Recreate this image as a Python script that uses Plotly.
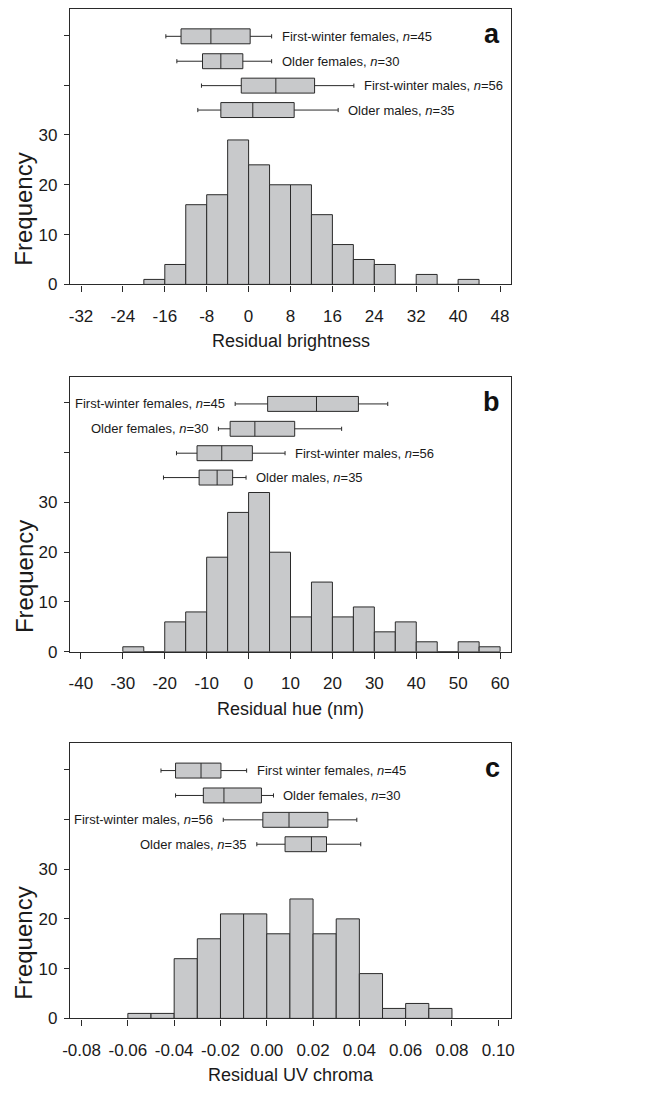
import plotly.graph_objects as go

# ---------------- data ----------------
group_names_a = ["First-winter females", "Older females", "First-winter males", "Older males"]
group_names_b = ["First-winter females", "Older females", "First-winter males", "Older males"]
group_names_c = ["First winter females", "Older females", "First-winter males", "Older males"]
group_n = [45, 30, 56, 35]

# Panel a: residual brightness histogram (bin left edges, width 4)
bright_bins = [-20, -16, -12, -8, -4, 0, 4, 8, 12, 16, 20, 24, 28, 32, 36, 40]
bright_counts = [1, 4, 16, 18, 29, 24, 20, 20, 14, 8, 5, 4, 0, 2, 0, 1]
bright_lo = [-15.8, -13.7, -9.0, -9.7]
bright_q1 = [-12.9, -8.8, -1.4, -5.3]
bright_med = [-7.2, -5.3, 5.2, 0.8]
bright_q3 = [0.3, -1.1, 12.6, 8.7]
bright_hi = [4.4, 4.4, 20.1, 17.1]

# Panel b: residual hue histogram (bin left edges, width 5)
hue_bins = [-30, -25, -20, -15, -10, -5, 0, 5, 10, 15, 20, 25, 30, 35, 40, 45, 50, 55]
hue_counts = [1, 0, 6, 8, 19, 28, 32, 20, 7, 14, 7, 9, 4, 6, 2, 0, 2, 1]
hue_lo = [-3.2, -7.2, -17.2, -20.3]
hue_q1 = [4.55, -4.4, -12.3, -11.8]
hue_med = [16.2, 1.5, -6.4, -7.5]
hue_q3 = [26.2, 11.0, 0.9, -3.8]
hue_hi = [33.2, 22.2, 8.7, -0.6]

# Panel c: residual UV chroma histogram (bin left edges, width 0.01)
uv_bins = [-0.06, -0.05, -0.04, -0.03, -0.02, -0.01, 0.00, 0.01, 0.02, 0.03, 0.04, 0.05, 0.06, 0.07]
uv_counts = [1, 1, 12, 16, 21, 21, 17, 24, 17, 20, 9, 2, 3, 2]
uv_lo = [-0.0457, -0.0394, -0.0188, -0.0043]
uv_q1 = [-0.0394, -0.0274, -0.0017, 0.0079]
uv_med = [-0.0284, -0.0185, 0.0096, 0.0193]
uv_q3 = [-0.0198, -0.0023, 0.0264, 0.0258]
uv_hi = [-0.0087, 0.0029, 0.0389, 0.0406]

bright_ticks = [-32, -24, -16, -8, 0, 8, 16, 24, 32, 40, 48]
hue_ticks = [-40, -30, -20, -10, 0, 10, 20, 30, 40, 50, 60]
uv_ticks = [-0.08, -0.06, -0.04, -0.02, 0.00, 0.02, 0.04, 0.06, 0.08, 0.10]
freq_ticks = [0, 10, 20, 30, 40, 50]
freq_ticktext = ["0", "10", "20", "30", "", ""]

# ---------------- styling / layout ----------------
FONT = "Liberation Sans, Arial, sans-serif"
GRAY = "#c8c9cb"
DARK = "#2a2a2a"
TXT = "#1a1a1a"
ROW_Y = [49.8, 44.8, 39.9, 35.0]
W, H = 659, 1104
ML, MR = 70, 148
PW = W - ML - MR

panels = [
    dict(bins=bright_bins, width=4, counts=bright_counts, lo=bright_lo, q1=bright_q1,
         med=bright_med, q3=bright_q3, hi=bright_hi, names=group_names_a,
         sides=["right", "right", "right", "right"], ticks=bright_ticks,
         ticktext=[f"{v:g}" for v in bright_ticks],
         xr=[-34.1, 50.1], title="Residual brightness", letter="a", top=9, bottom=287),
    dict(bins=hue_bins, width=5, counts=hue_counts, lo=hue_lo, q1=hue_q1,
         med=hue_med, q3=hue_q3, hi=hue_hi, names=group_names_b,
         sides=["left", "left", "right", "right"], ticks=hue_ticks,
         ticktext=[f"{v:g}" for v in hue_ticks],
         xr=[-42.6, 62.6], title="Residual hue (nm)", letter="b", top=380, bottom=657.7),
    dict(bins=uv_bins, width=0.01, counts=uv_counts, lo=uv_lo, q1=uv_q1,
         med=uv_med, q3=uv_q3, hi=uv_hi, names=group_names_c,
         sides=["right", "right", "left", "left"], ticks=uv_ticks,
         ticktext=[f"{v:.2f}" for v in uv_ticks],
         xr=[-0.085, 0.1055], title="Residual UV chroma", letter="c", top=750, bottom=1027.7),
]

fig = go.Figure()
annotations = []
layout = {}

for i, p in enumerate(panels):
    k = "" if i == 0 else str(i + 1)
    xa, ya = "x" + k, "y" + k
    centers = [b + p["width"] / 2 for b in p["bins"]]
    fig.add_trace(go.Bar(
        x=centers, y=p["counts"], width=[p["width"]] * len(centers),
        marker=dict(color=GRAY, line=dict(color=DARK, width=1)),
        xaxis=xa, yaxis=ya, showlegend=False, hoverinfo="skip"))
    fig.add_trace(go.Box(
        y=ROW_Y, q1=p["q1"], median=p["med"], q3=p["q3"],
        lowerfence=p["lo"], upperfence=p["hi"], orientation="h",
        width=3, whiskerwidth=0.28, fillcolor=GRAY,
        line=dict(color=DARK, width=1), boxpoints=False,
        xaxis=xa, yaxis=ya, showlegend=False, hoverinfo="skip"))

    for j in range(4):
        label = f"{p['names'][j]}, <i>n</i>={group_n[j]}"
        if p["sides"][j] == "right":
            annotations.append(dict(x=p["hi"][j], y=ROW_Y[j], xref=xa, yref=ya, text=label,
                                    xanchor="left", yanchor="middle", xshift=8, showarrow=False,
                                    font=dict(family=FONT, size=13, color=TXT)))
        else:
            annotations.append(dict(x=p["lo"][j], y=ROW_Y[j], xref=xa, yref=ya, text=label,
                                    xanchor="right", yanchor="middle", xshift=-8, showarrow=False,
                                    font=dict(family=FONT, size=13, color=TXT)))
    # panel letter
    annotations.append(dict(x=1, y=1, xref=xa + " domain", yref=ya + " domain", text=f"<b>{p['letter']}</b>",
                            xanchor="right", yanchor="middle", xshift=-9, yshift=-25, showarrow=False,
                            font=dict(family=FONT, size=27, color="#111")))
    # x title
    annotations.append(dict(x=0.5, y=0, xref=xa + " domain", yref=ya + " domain", text=p["title"],
                            xanchor="center", yanchor="middle", yshift=-57, showarrow=False,
                            font=dict(family=FONT, size=18, color=TXT)))
    # y title
    annotations.append(dict(x=(24 - ML) / PW, y=15, xref="paper", yref=ya, text="Frequency", textangle=-90,
                            xanchor="center", yanchor="middle", showarrow=False,
                            font=dict(family=FONT, size=24, color=TXT)))

    dom = [1 - p["bottom"] / H, 1 - p["top"] / H]
    layout["xaxis" + k] = dict(domain=[0, 1], range=p["xr"], anchor=ya, tickvals=p["ticks"],
                               ticktext=p["ticktext"], ticks="outside", ticklen=6, tickwidth=1,
                               tickcolor=DARK, showline=True, linecolor=DARK, linewidth=1.3, mirror=True,
                               showgrid=False, zeroline=False, ticklabelstandoff=10,
                               tickfont=dict(family=FONT, size=17, color=TXT))
    layout["yaxis" + k] = dict(domain=dom, range=[0, 55.3], anchor=xa, tickvals=freq_ticks,
                               ticktext=freq_ticktext, ticks="outside", ticklen=5, tickwidth=1,
                               tickcolor=DARK, showline=True, linecolor=DARK, linewidth=1.3, mirror=True,
                               showgrid=False, zeroline=False, ticklabelstandoff=3,
                               tickfont=dict(family=FONT, size=17, color=TXT))

fig.update_layout(
    width=W, height=H, margin=dict(l=ML, r=MR, t=0, b=0),
    paper_bgcolor="white", plot_bgcolor="white", showlegend=False,
    annotations=annotations, barmode="overlay", boxmode="overlay", **layout)

fig.write_html("out.html")
